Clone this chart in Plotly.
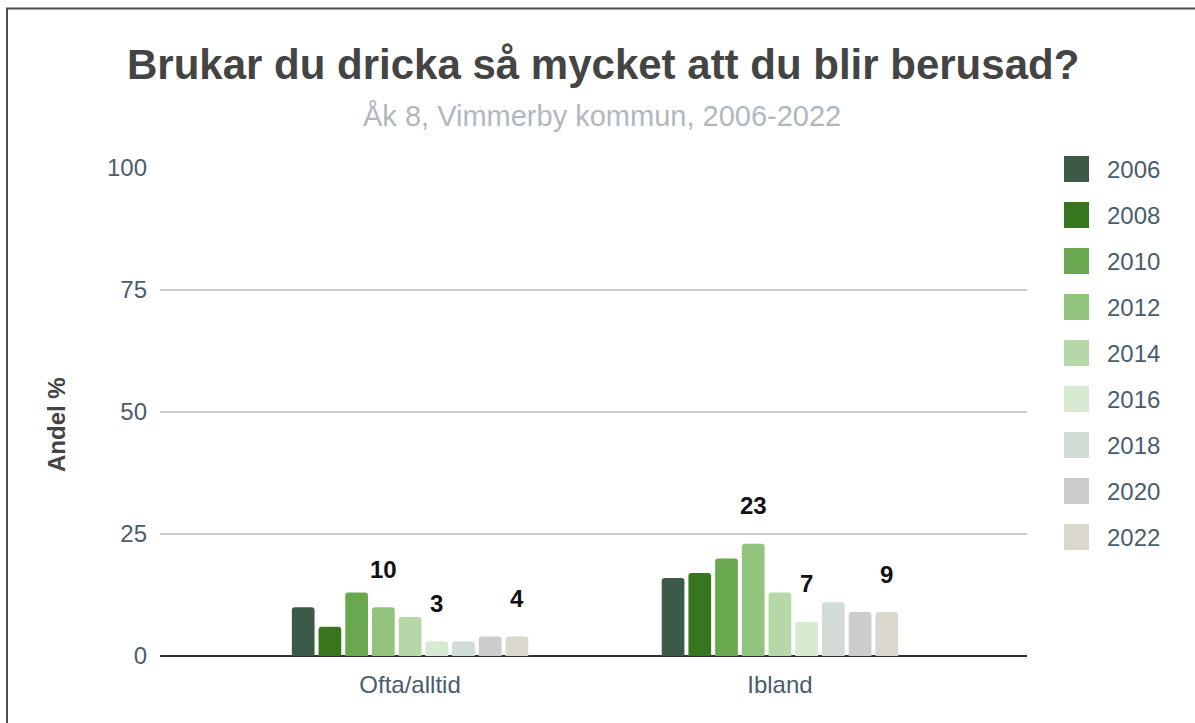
import plotly.graph_objects as go

# Survey answers, share in percent per year
categories = ["Ofta/alltid", "Ibland"]
years = ["2006", "2008", "2010", "2012", "2014", "2016", "2018", "2020", "2022"]
values = {
    "2006": [10, 16],
    "2008": [6, 17],
    "2010": [13, 20],
    "2012": [10, 23],
    "2014": [8, 13],
    "2016": [3, 7],
    "2018": [3, 11],
    "2020": [4, 9],
    "2022": [4, 9],
}
labelled_years = ["2012", "2016", "2022"]
colors = ["#3b5a47", "#38761d", "#6aa84f", "#93c47d", "#b6d7a8",
          "#d9ead3", "#d0dcd4", "#cccccc", "#dad8cc"]
y_ticks = [0, 25, 50, 75, 100]

W, H = 1195, 723
L, R, T, B = 160, 168, 168, 67
PW, PH = W - L - R, H - T - B
BARGAP, GROUPGAP = 0.35, 0.15
XR = [-0.676, 1.668]

FONT = "Liberation Sans, Arial, sans-serif"
TICK_COLOR = "#4a5d6b"


def px(x):
    return (x - L) / PW


def py(y):
    return (H - B - y) / PH


fig = go.Figure()
for yr, col in zip(years, colors):
    fig.add_trace(go.Bar(
        name=yr, x=categories, y=values[yr],
        marker=dict(color=col, line=dict(width=0)),
        showlegend=False, hoverinfo="skip",
    ))

annotations = []
# value labels above selected years
n = len(years)
slot = (1 - BARGAP) / n
for i, yr in enumerate(years):
    if yr not in labelled_years:
        continue
    for ci, v in enumerate(values[yr]):
        xc = ci - (1 - BARGAP) / 2 + (i + 0.5) * slot
        annotations.append(dict(
            x=xc, y=v, xref="x", yref="y", text=f"<b>{v}</b>",
            showarrow=False, yanchor="middle", yshift=38,
            font=dict(family=FONT, size=24, color="#111111"),
        ))

# title and subtitle
annotations.append(dict(
    x=px(603), y=py(65), xref="paper", yref="paper",
    text="<b>Brukar du dricka så mycket att du blir berusad?</b>",
    showarrow=False, xanchor="center", yanchor="middle",
    font=dict(family=FONT, size=42, color="#444444"),
))
annotations.append(dict(
    x=px(602), y=py(116), xref="paper", yref="paper",
    text="Åk 8, Vimmerby kommun, 2006-2022",
    showarrow=False, xanchor="center", yanchor="middle",
    font=dict(family=FONT, size=29, color="#b0b8bf"),
))

# y axis title
annotations.append(dict(
    x=px(56), y=py(425), xref="paper", yref="paper",
    text="<b>Andel %</b>", textangle=-90,
    showarrow=False, xanchor="center", yanchor="middle",
    font=dict(family=FONT, size=24, color="#444444"),
))

# legend drawn as swatches plus labels
shapes = []
for i, (yr, col) in enumerate(zip(years, colors)):
    yc = 169 + 46 * i
    shapes.append(dict(
        type="rect", xref="paper", yref="paper",
        x0=px(1064), x1=px(1089), y0=py(yc - 13), y1=py(yc + 13),
        fillcolor=col, line=dict(width=0), layer="above",
    ))
    annotations.append(dict(
        x=px(1105), y=py(yc), xref="paper", yref="paper", text=yr,
        showarrow=False, xanchor="left", yanchor="middle",
        font=dict(family=FONT, size=24, color=TICK_COLOR),
    ))

# outer frame
shapes.append(dict(
    type="rect", xref="paper", yref="paper",
    x0=px(7), x1=px(W + 20), y0=py(8.5), y1=py(H + 20),
    line=dict(color="#4d4d4d", width=2), fillcolor="rgba(0,0,0,0)",
    layer="above",
))

fig.update_layout(
    width=W, height=H,
    margin=dict(l=L, r=R, t=T, b=B, pad=0),
    paper_bgcolor="white", plot_bgcolor="white",
    barmode="group", bargap=BARGAP, bargroupgap=GROUPGAP,
    barcornerradius=3,
    showlegend=False,
    annotations=annotations, shapes=shapes,
    font=dict(family=FONT),
    xaxis=dict(
        type="category", range=XR, showgrid=False, zeroline=False,
        showline=False, ticks="", ticklabelstandoff=12,
        tickfont=dict(family=FONT, size=24, color=TICK_COLOR),
    ),
    yaxis=dict(
        range=[0, 100], tickvals=y_ticks, showgrid=True,
        gridcolor="#cccccc", gridwidth=1.5,
        zeroline=True, zerolinecolor="#333333", zerolinewidth=2,
        showline=False, ticks="", ticklabelstandoff=12,
        tickfont=dict(family=FONT, size=24, color=TICK_COLOR),
    ),
)

fig.write_html("out.html")
